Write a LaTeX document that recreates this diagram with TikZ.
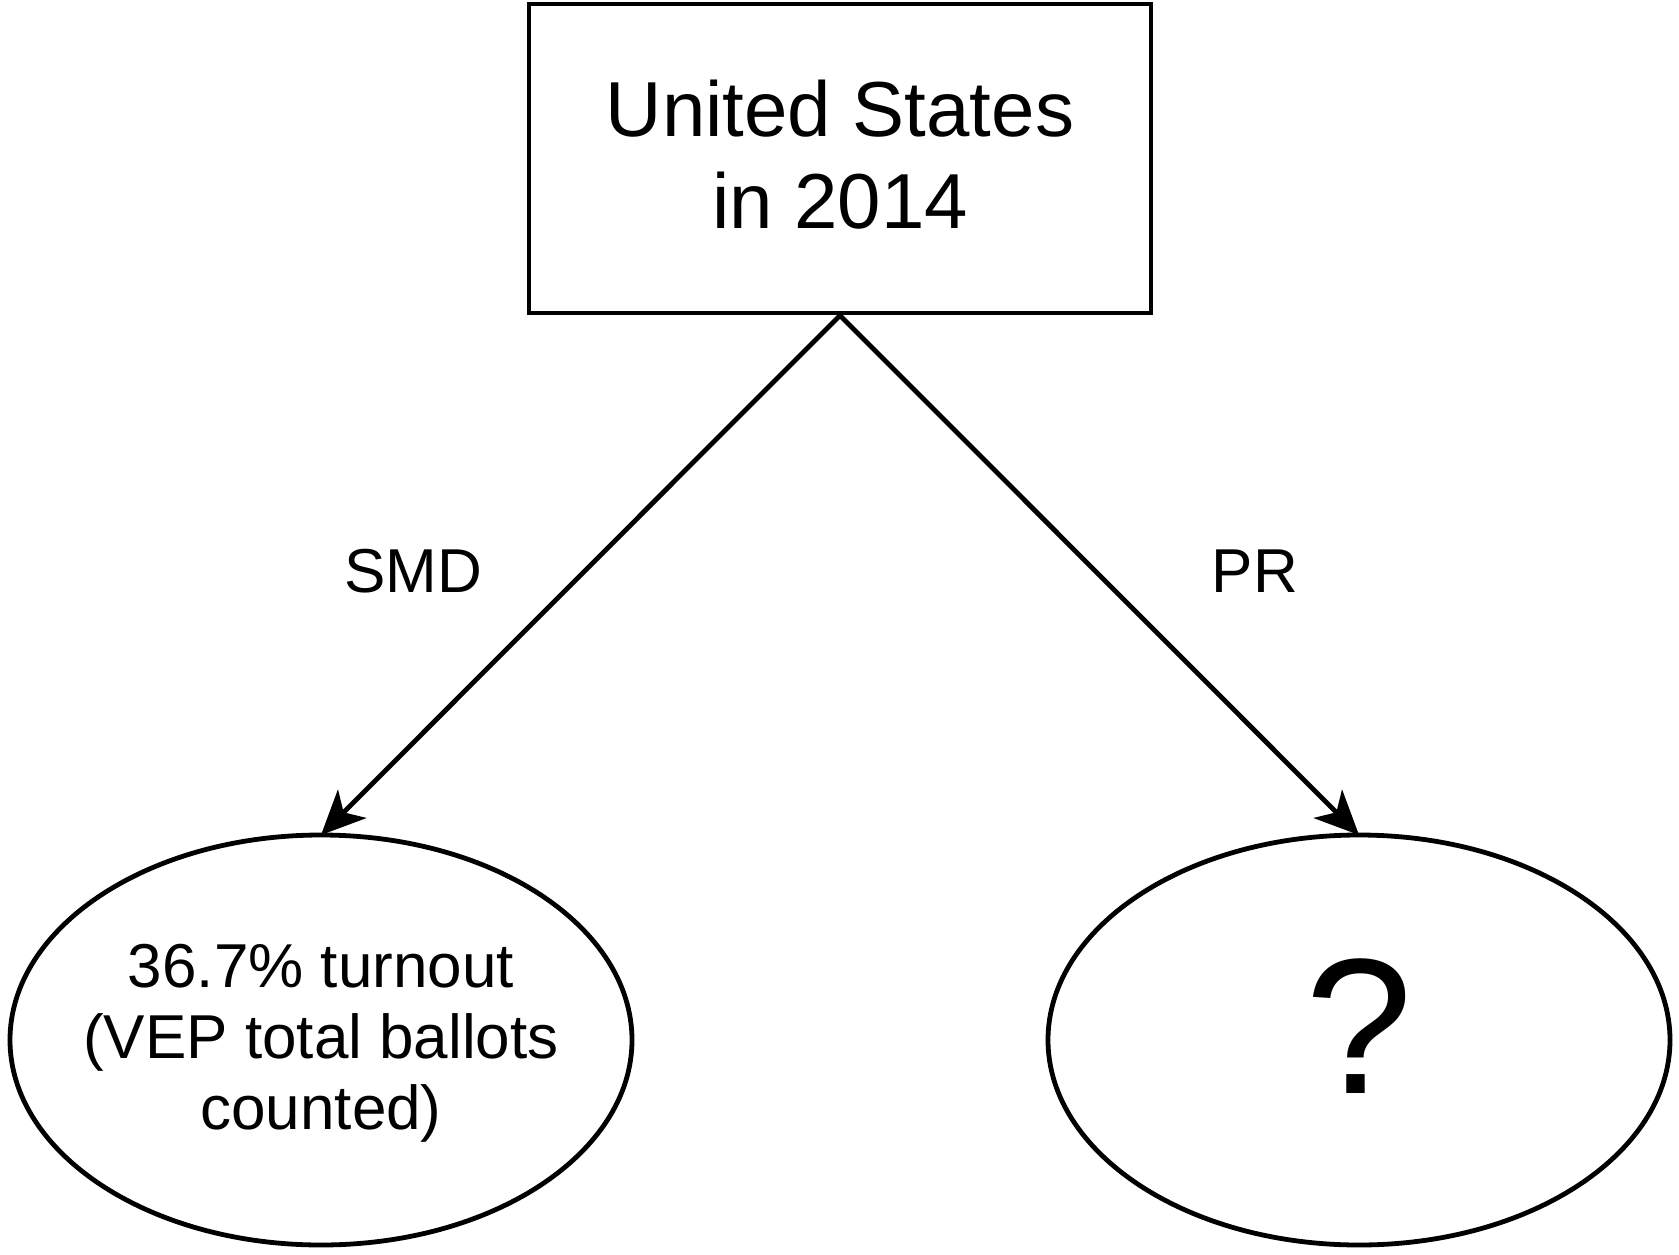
\documentclass[tikz,border=0pt]{standalone}
\usepackage{fontspec}
\setmainfont{Liberation Sans}
\usetikzlibrary{shapes.geometric,arrows.meta}
\begin{document}
\begin{tikzpicture}[x=1pt,y=-1pt,
  line width=4.8pt,
  outcome/.style={draw,ellipse,minimum width=622pt,minimum height=410pt,inner sep=0pt,outer sep=0pt},
  branch/.style={-{Stealth[length=44pt,width=40pt,inset=12pt]}},
  tag/.style={font=\fontsize{62}{72}\selectfont}]
  \useasboundingbox (0,0) rectangle (1679,1255);
  % top box
  \node[draw,minimum width=622pt,minimum height=309pt,inner sep=0pt] (us) at (840,158.5) {};
  \node[align=center,font=\fontsize{78}{92}\selectfont] (ustext) at (840,155) {United States\\in 2014};
  % outcome ellipses
  \node[outcome] (smd) at (321,1040) {};
  \node[align=center,font=\fontsize{62}{71}\selectfont] (smdtext) at (321,1043)
       {36.7\% turnout\\(VEP total ballots\\counted)};
  \node[outcome] (pr) at (1359,1040) {};
  \node[font=\fontsize{193}{200}\selectfont] (prtext) at (1359,1026) {?};
  % branches
  \draw[branch] (us.south) -- (smd.north);
  \draw[branch] (us.south) -- (pr.north);
  \node[tag] (smdlabel) at (413,571) {SMD};
  \node[tag] (prlabel) at (1255,571) {PR};
\end{tikzpicture}
\end{document}
